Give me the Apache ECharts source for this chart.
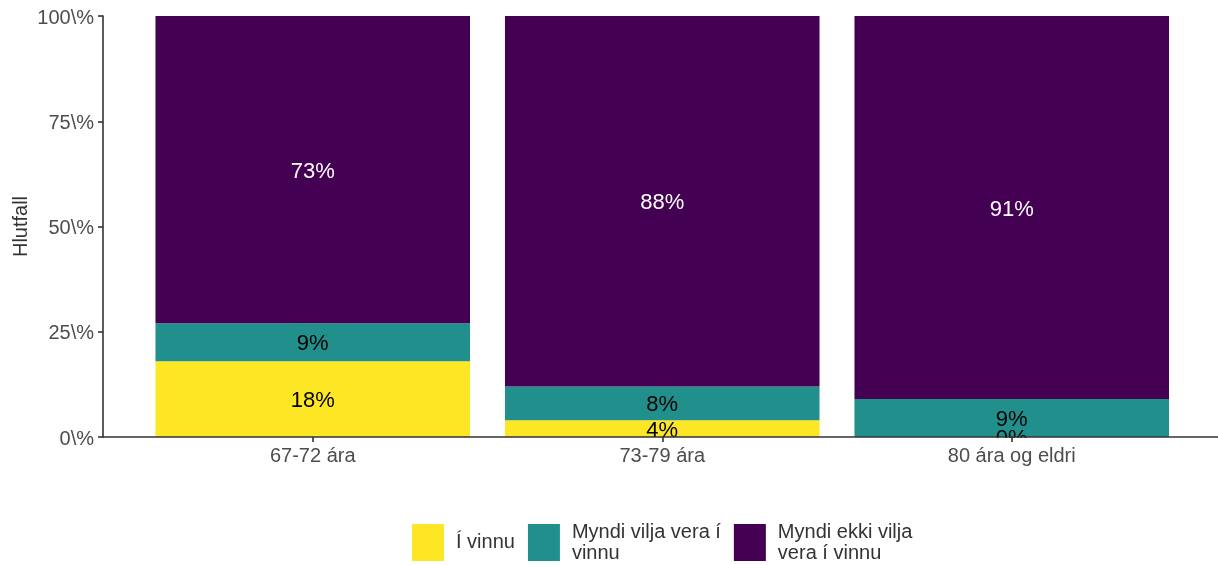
<!DOCTYPE html>
<html>
<head>
<meta charset="utf-8">
<script src="https://cdn.jsdelivr.net/npm/echarts@6/dist/echarts.min.js"></script>
<style>
  html, body { margin: 0; padding: 0; background: #fff; }
  #chart { width: 1218px; height: 565px; }
</style>
</head>
<body>
<div id="chart"></div>
<script>
// Age groups and share (%) of each work status within the group
const categories = ['67-72 ára', '73-79 ára', '80 ára og eldri'];
const iVinnu = [18, 4, 0];
const myndiVilja = [9, 8, 9];
const myndiEkki = [73, 88, 91];
const seriesNames = ['Í vinnu', 'Myndi vilja vera í vinnu', 'Myndi ekki vilja vera í vinnu'];
const legendLabels = ['Í vinnu', 'Myndi vilja vera í\nvinnu', 'Myndi ekki vilja\nvera í vinnu'];
const yTicks = [0, 25, 50, 75, 100];
const colors = ['#FDE725', '#21908C', '#440154'];
const labelColors = ['#000000', '#000000', '#ffffff'];

const FONT = '"Liberation Sans", Arial, sans-serif';
const AXIS_COLOR = '#333333';

const chart = echarts.init(document.getElementById('chart'), null, { renderer: 'canvas' });

const values = [iVinnu, myndiVilja, myndiEkki];
const series = values.map((vals, s) => ({
  name: seriesNames[s],
  type: 'bar',
  stack: 'total',
  xAxisIndex: 0,
  yAxisIndex: 0,
  barWidth: '90%',
  itemStyle: { color: colors[s] },
  emphasis: { disabled: true },
  data: vals,
  label: {
    show: true,
    position: 'inside',
    offset: [0, 2],
    fontFamily: FONT,
    fontSize: 22,
    color: labelColors[s],
    formatter: p => p.value + '%'
  }
}));

chart.setOption({
  animation: false,
  textStyle: { fontFamily: FONT },
  grid: [
    // bars: the band area is inset a little from the axis lines on both sides
    { left: 138, top: 16, width: 1048.5, height: 421, outerBoundsMode: 'none', containLabel: false },
    // full-width frame that carries the horizontal axis line
    { left: 103, top: 16, right: -3, height: 421, outerBoundsMode: 'none', containLabel: false }
  ],
  legend: {
    left: 407,
    top: 516.5,
    itemWidth: 32,
    itemHeight: 37,
    itemGap: 13,
    icon: 'rect',
    selectedMode: false,
    data: seriesNames,
    formatter: name => legendLabels[seriesNames.indexOf(name)],
    textStyle: {
      fontFamily: FONT,
      fontSize: 20,
      color: '#333333',
      lineHeight: 21,
      padding: [0, 0, 0, 7]
    }
  },
  xAxis: [
    {
      type: 'category',
      gridIndex: 0,
      data: categories,
      boundaryGap: true,
      z: 60,
      splitLine: { show: false },
      axisLine: { show: false },
      axisTick: { show: true, alignWithLabel: true, length: 5, lineStyle: { color: AXIS_COLOR, width: 1.6 } },
      axisLabel: {
        fontFamily: FONT,
        fontSize: 20,
        color: '#4d4d4d',
        margin: 9
      }
    },
    {
      type: 'value',
      gridIndex: 1,
      min: 0,
      max: 1,
      z: 60,
      splitLine: { show: false },
      axisTick: { show: false },
      axisLabel: { show: false },
      axisLine: { show: true, lineStyle: { color: AXIS_COLOR, width: 1.6 } }
    }
  ],
  yAxis: [
    {
      type: 'value',
      gridIndex: 0,
      min: 0,
      max: 100,
      interval: 25,
      offset: 35,
      z: 60,
      name: 'Hlutfall',
      nameLocation: 'middle',
      nameRotate: 90,
      nameGap: 72,
      nameMoveOverlap: false,
      nameTextStyle: { fontFamily: FONT, fontSize: 20, color: '#333333' },
      splitLine: { show: false },
      axisLine: { show: true, lineStyle: { color: AXIS_COLOR, width: 1.6 } },
      axisTick: { show: true, length: 5, lineStyle: { color: AXIS_COLOR, width: 1.6 } },
      axisLabel: {
        fontFamily: FONT,
        fontSize: 20,
        color: '#4d4d4d',
        margin: 9,
        verticalAlign: 'top',
        lineHeight: 4,
        formatter: v => yTicks.includes(v) ? v + '\\%' : ''
      }
    },
    {
      type: 'value',
      gridIndex: 1,
      min: 0,
      max: 100,
      show: false
    }
  ],
  series: series
});

// Clip the value labels at the bottom edge of the plotting area
const baseY = chart.convertToPixel({ xAxisIndex: 0, yAxisIndex: 0 }, [0, 0])[1];
chart.setOption({
  graphic: [{
    type: 'rect',
    z: 50,
    silent: true,
    shape: { x: 0, y: baseY + 1, width: 1218, height: 10 },
    style: { fill: '#ffffff' }
  }]
});
</script>
</body>
</html>
